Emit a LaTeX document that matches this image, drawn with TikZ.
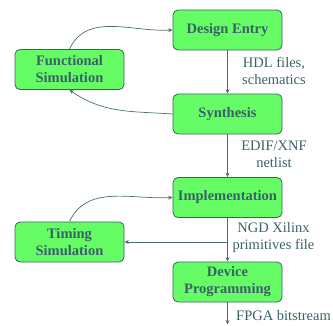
\documentclass[tikz,border=0pt]{standalone}
\usepackage{fontspec}
\setmainfont{Liberation Serif}
\usetikzlibrary{arrows.meta}
\definecolor{boxfill}{RGB}{102,252,102}
\definecolor{ink}{RGB}{58,98,102}
\definecolor{linec}{RGB}{72,112,114}
\tikzset{
  stage/.style={draw=ink, line width=0.8pt, fill=boxfill, rounded corners=5pt,
    minimum width=109pt, minimum height=40pt, inner sep=0pt, align=center,
    text=ink, font=\fontsize{14.5}{17}\selectfont\bfseries},
  lbl/.style={text=ink, align=center, inner sep=0pt, font=\fontsize{14.5}{17}\selectfont},
  flow/.style={draw=linec, line width=0.7pt, -{Stealth[length=4.5pt,width=4pt]}}
}
\begin{document}
\begin{tikzpicture}[x=1pt,y=-1pt]
\useasboundingbox (0,0) rectangle (333,325);
\node[stage] (de)  at (227.5,30)  {Design Entry};
\node[stage] (syn) at (227.5,114) {Synthesis};
\node[stage] (imp) at (227.5,197.5) {Implementation};
\node[stage] (dev) at (227.5,282) {Device\\Programming};
\node[stage] (fs)  at (69.5,69.5) {Functional\\Simulation};
\node[stage] (ts)  at (69.5,242) {Timing\\Simulation};
\node[lbl] (l1) at (274,70.5) {HDL files,\\schematics};
\node[lbl] (l2) at (274,154) {EDIF/XNF\\netlist};
\node[lbl] (l3) at (273.5,238) {NGD Xilinx\\primitives file};
\node[lbl, anchor=west] (l4) at (236,315.5) {FPGA bitstream};
\coordinate (out) at (227.5,324.5);
\coordinate (tap) at (227.5,242);
\draw[flow] (de) -- (syn);
\draw[flow] (syn) -- (imp);
\draw[flow] (imp) -- (dev);
\draw[flow] (dev) -- (out);
\draw[flow] (fs.north) to[out=65,in=183] (de.west);
\draw[flow] (syn.west) to[out=176,in=-35] (fs.south);
\draw[flow] (ts.north) to[out=65,in=183] (imp.west);
\draw[flow] (tap) -- (ts.east);
\end{tikzpicture}
\end{document}
